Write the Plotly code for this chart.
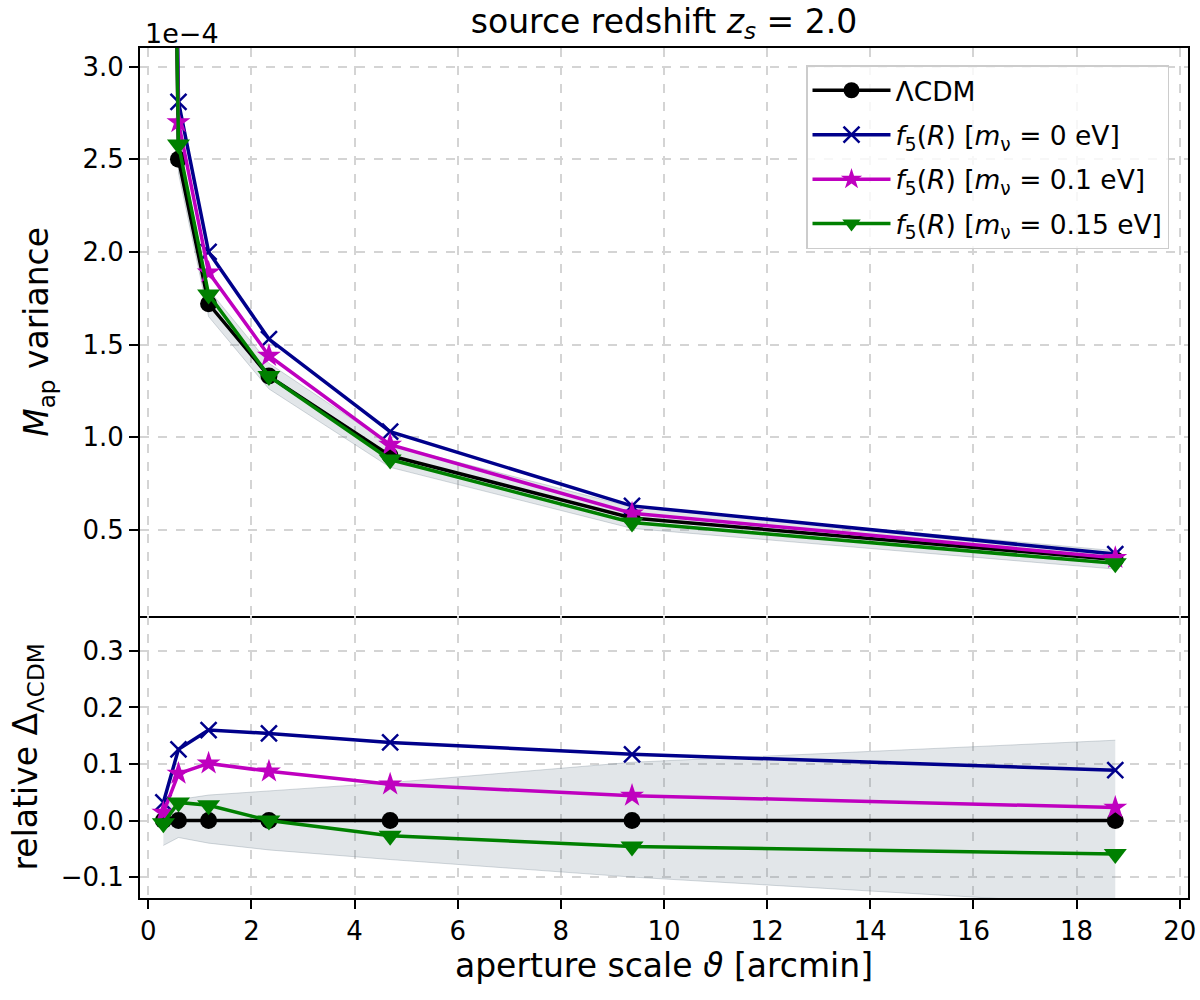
import plotly.graph_objects as go
from plotly.subplots import make_subplots

# aperture scales [arcmin]
theta = [0.293, 0.586, 1.17, 2.34, 4.69, 9.38, 18.75]

# M_ap variance, in units of 1e-4
var_lcdm = [8.30, 2.50, 1.72, 1.33, 0.90, 0.565, 0.34]
var_f5_0 = [8.57, 2.81, 2.00, 1.53, 1.03, 0.63, 0.37]
var_f5_01 = [8.42, 2.70, 1.89, 1.44, 0.96, 0.59, 0.35]
var_f5_015 = [8.26, 2.58, 1.77, 1.33, 0.88, 0.54, 0.32]

# relative difference to LCDM
rel_lcdm = [0.0, 0.0, 0.0, 0.0, 0.0, 0.0, 0.0]
rel_f5_0 = [0.032, 0.126, 0.160, 0.154, 0.138, 0.117, 0.089]
rel_f5_01 = [0.014, 0.083, 0.101, 0.087, 0.064, 0.044, 0.023]
rel_f5_015 = [-0.005, 0.032, 0.027, 0.000, -0.027, -0.046, -0.059]

# LCDM error band (relative)
band_hi = [0.030, 0.037, 0.045, 0.052, 0.067, 0.103, 0.142]
band_lo = [-0.044, -0.030, -0.040, -0.052, -0.069, -0.100, -0.150]

font = "DejaVu Sans"
band_fill = "rgba(112,128,144,0.2)"
band_edge = "rgba(112,128,144,0.3)"

fig = make_subplots(rows=2, cols=1, shared_xaxes=True, vertical_spacing=0,
                    row_heights=[0.668, 0.332])

# bands
top_hi = [v * (1 + r) for v, r in zip(var_lcdm, band_hi)]
top_lo = [v * (1 + r) for v, r in zip(var_lcdm, band_lo)]
fig.add_trace(go.Scatter(x=theta, y=top_lo, mode="lines", line=dict(color=band_edge, width=1),
                         showlegend=False, hoverinfo="skip"), 1, 1)
fig.add_trace(go.Scatter(x=theta, y=top_hi, mode="lines", line=dict(color=band_edge, width=1),
                         fill="tonexty", fillcolor=band_fill, showlegend=False, hoverinfo="skip"), 1, 1)
fig.add_trace(go.Scatter(x=theta, y=band_lo, mode="lines", line=dict(color=band_edge, width=1),
                         showlegend=False, hoverinfo="skip"), 2, 1)
fig.add_trace(go.Scatter(x=theta, y=band_hi, mode="lines", line=dict(color=band_edge, width=1),
                         fill="tonexty", fillcolor=band_fill, showlegend=False, hoverinfo="skip"), 2, 1)

series = [
    ("ΛCDM", var_lcdm, rel_lcdm, "black", dict(symbol="circle", size=17)),
    ("<i>f</i><sub>5</sub>(<i>R</i>) [<i>m</i><sub>ν</sub> = 0 eV]", var_f5_0, rel_f5_0, "#00008b",
     dict(symbol="x-thin", size=16, line=dict(color="#00008b", width=2.5))),
    ("<i>f</i><sub>5</sub>(<i>R</i>) [<i>m</i><sub>ν</sub> = 0.1 eV]", var_f5_01, rel_f5_01, "#bf00bf",
     dict(symbol="star", size=18)),
    ("<i>f</i><sub>5</sub>(<i>R</i>) [<i>m</i><sub>ν</sub> = 0.15 eV]", var_f5_015, rel_f5_015, "#008000",
     dict(symbol="triangle-down", size=20)),
]

for i, (name, top, bot, col, mk) in enumerate(series):
    fig.add_trace(go.Scatter(x=theta, y=top, name=name, mode="lines+markers", legendgroup=f"g{i}",
                             line=dict(color=col, width=3.5), marker=dict(color=col, **mk)), 1, 1)
    fig.add_trace(go.Scatter(x=theta, y=bot, name=name, mode="lines+markers", showlegend=False,
                             legendgroup=f"g{i}",
                             line=dict(color=col, width=3.5), marker=dict(color=col, **mk)), 2, 1)

axis_style = dict(showline=True, linecolor="black", linewidth=2, mirror=True, automargin=False,
                  showgrid=True, gridcolor="#d4d4d4", gridwidth=1.6, griddash="dash",
                  zeroline=False, ticks="outside", ticklen=9, tickwidth=2, tickcolor="black",
                  ticklabeloverflow="allow",
                  tickfont=dict(family=font, size=26, color="black"))
title_font = dict(family=font, size=33, color="black")

fig.update_xaxes(**axis_style, range=[-0.16, 20.16], dtick=2, tick0=0)
fig.update_xaxes(showticklabels=False, ticks="", row=1, col=1)
fig.update_xaxes(mirror=False, title=dict(text="aperture scale <i>ϑ</i> [arcmin]", font=title_font,
                                          standoff=8), row=2, col=1)
fig.update_yaxes(**axis_style)
fig.update_yaxes(range=[0.037, 3.10], tickvals=[0.5, 1.0, 1.5, 2.0, 2.5, 3.0],
                 ticktext=["0.5", "1.0", "1.5", "2.0", "2.5", "3.0"],
                 title=dict(text="<i>M</i><sub>ap</sub> variance", font=title_font, standoff=24), row=1, col=1)
fig.update_yaxes(range=[-0.137, 0.362], tickvals=[-0.1, 0.0, 0.1, 0.2, 0.3],
                 ticktext=["−0.1", "0.0", "0.1", "0.2", "0.3"],
                 title=dict(text="relative Δ<sub>ΛCDM</sub>", font=title_font, standoff=13), row=2, col=1)

fig.add_annotation(text="1e−4", xref="paper", yref="paper", x=0, y=1.0, xanchor="left", yanchor="bottom",
                   xshift=3, yshift=-3, showarrow=False, font=dict(family=font, size=27, color="black"))

fig.update_layout(
    width=1200, height=1000,
    margin=dict(l=140, r=12, t=48, b=102),
    plot_bgcolor="white", paper_bgcolor="white",
    title=dict(text="source redshift <i>z<sub>s</sub></i> = 2.0", xref="paper", x=0.5, xanchor="center",
               y=0.979, yanchor="middle", font=title_font),
    legend=dict(x=0.6355, y=0.98, xanchor="left", yanchor="top", bgcolor="rgba(255,255,255,0.8)",
                bordercolor="#cccccc", borderwidth=1.5, font=dict(family=font, size=26.5, color="black"),
                traceorder="grouped", tracegroupgap=7, itemwidth=78),
    showlegend=True,
)

# page without body margin so the 1200x1000 figure fills the window exactly
fig.write_html("out.html", config={"displayModeBar": False},
               post_script="document.body.style.margin='0';document.body.style.overflow='hidden';")
